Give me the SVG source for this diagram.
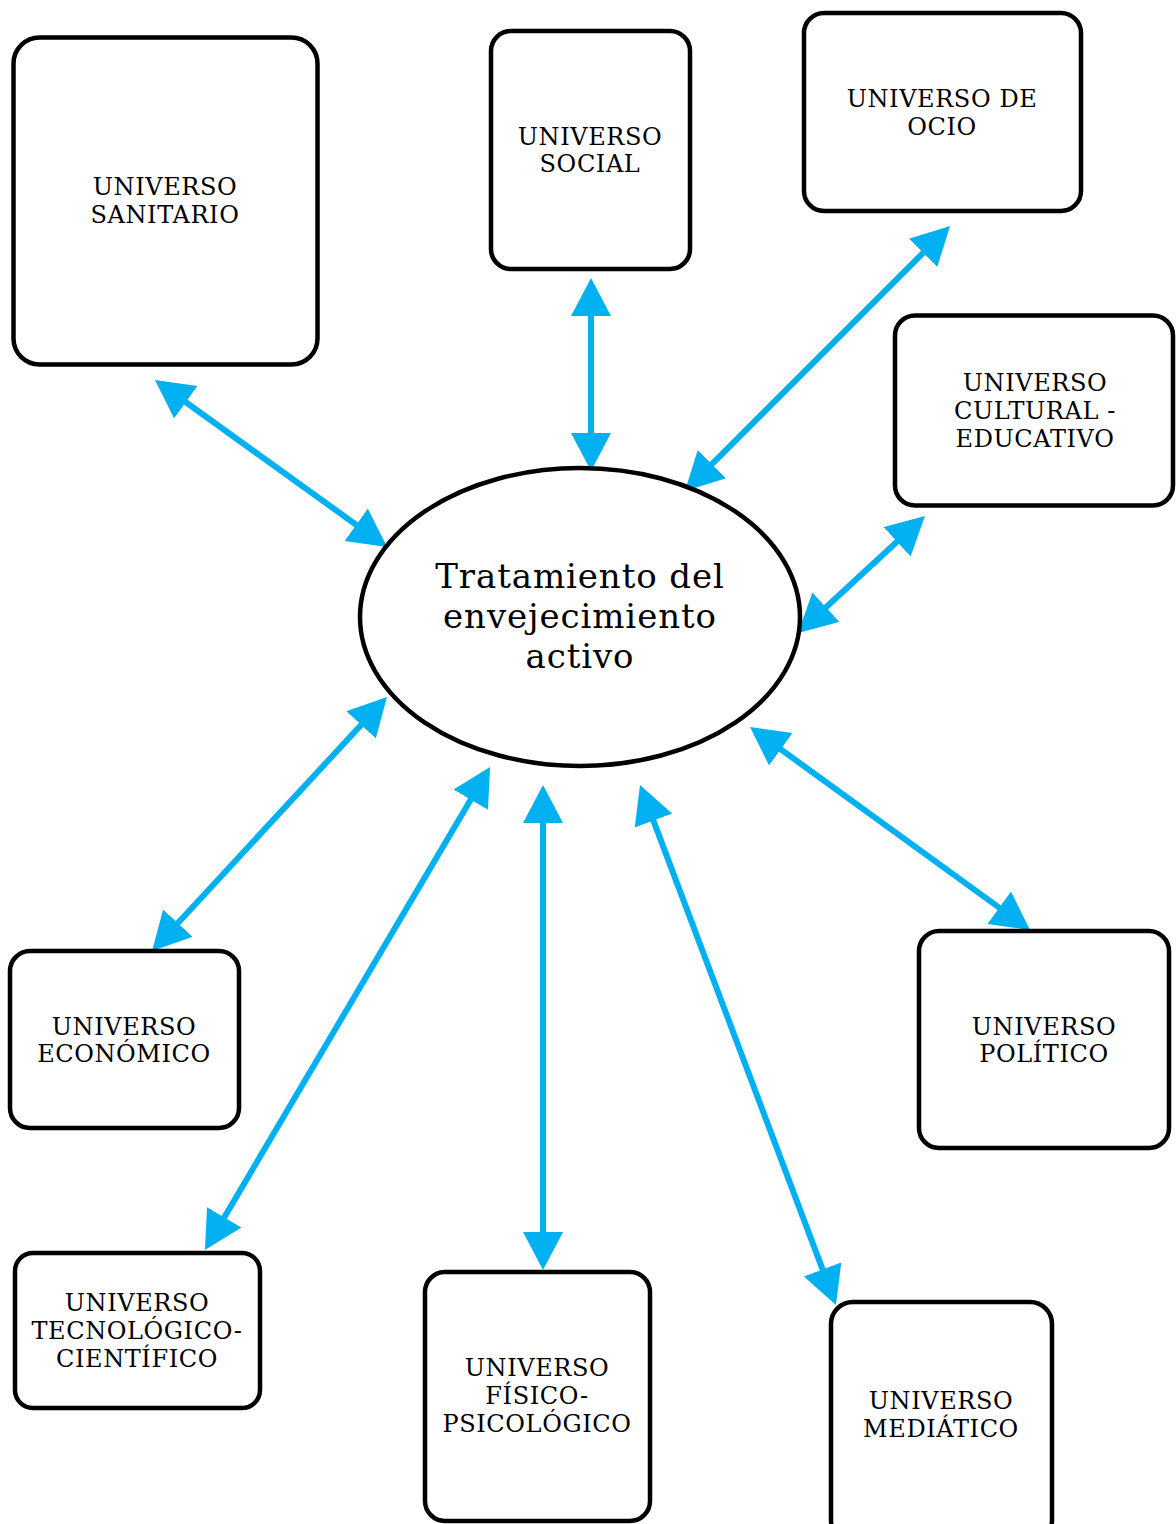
<svg xmlns="http://www.w3.org/2000/svg" width="1176" height="1524" viewBox="0 0 1176 1524">
<style>
.box{fill:#fff;stroke:#000;stroke-width:4.5}
.lbl{font-family:"DejaVu Serif","Liberation Serif",serif;font-size:24px;letter-spacing:0.6px;fill:#000;text-anchor:middle}
.title{font-family:"DejaVu Serif","Liberation Serif",serif;font-size:34px;letter-spacing:0.9px;fill:#000;text-anchor:middle}
.con{stroke:#00B0F0;stroke-width:6;fill:none;marker-start:url(#ah);marker-end:url(#ah)}
</style>
<defs>
<marker id="ah" markerUnits="userSpaceOnUse" markerWidth="40" markerHeight="42" refX="8" refY="20" orient="auto-start-reverse" viewBox="0 0 40 42">
<path d="M0,0 L38,20 L0,40 z" fill="#00B0F0"/>
</marker>
</defs>
<rect width="1176" height="1524" fill="#fff"/>
<g id="connectors">
<line class="con" x1="179.3" y1="397.5" x2="362.7" y2="529.5"/>
<line class="con" x1="591" y1="308" x2="591" y2="441"/>
<line class="con" x1="928.8" y1="247.2" x2="706.2" y2="469.8"/>
<line class="con" x1="902.9" y1="536.3" x2="820.1" y2="612.7"/>
<line class="con" x1="366.6" y1="719" x2="172.4" y2="929"/>
<line class="con" x1="474.8" y1="792.8" x2="220.2" y2="1224.2"/>
<line class="con" x1="543" y1="815" x2="543" y2="1240"/>
<line class="con" x1="650.6" y1="813.1" x2="825.4" y2="1276.9"/>
<line class="con" x1="774.3" y1="744.6" x2="1005.7" y2="912.4"/>
</g>
<g id="center">
<ellipse class="box" cx="580" cy="617" rx="220" ry="149"/>
<text class="title" x="580" y="588">Tratamiento del</text>
<text class="title" x="580" y="628">envejecimiento</text>
<text class="title" x="580" y="668">activo</text>
</g>
<g id="sanitario">
<rect class="box" x="13.5" y="37.5" width="304" height="327" rx="26"/>
<text class="lbl" x="165" y="195">UNIVERSO</text>
<text class="lbl" x="165" y="223">SANITARIO</text>
</g>
<g id="social">
<rect class="box" x="491" y="31" width="199" height="238" rx="20"/>
<text class="lbl" x="590" y="145">UNIVERSO</text>
<text class="lbl" x="590" y="172">SOCIAL</text>
</g>
<g id="ocio">
<rect class="box" x="804" y="13" width="277" height="198" rx="20"/>
<text class="lbl" x="942" y="107">UNIVERSO DE</text>
<text class="lbl" x="942" y="135">OCIO</text>
</g>
<g id="cultural">
<rect class="box" x="895" y="315.5" width="278" height="190" rx="20"/>
<text class="lbl" x="1035" y="391">UNIVERSO</text>
<text class="lbl" x="1035" y="419">CULTURAL -</text>
<text class="lbl" x="1035" y="447">EDUCATIVO</text>
</g>
<g id="economico">
<rect class="box" x="10" y="951" width="229" height="177" rx="20"/>
<text class="lbl" x="124" y="1035">UNIVERSO</text>
<text class="lbl" x="124" y="1062">ECONÓMICO</text>
</g>
<g id="politico">
<rect class="box" x="919" y="931" width="250" height="217" rx="20"/>
<text class="lbl" x="1044" y="1035">UNIVERSO</text>
<text class="lbl" x="1044" y="1062">POLÍTICO</text>
</g>
<g id="tecnologico">
<rect class="box" x="15" y="1253" width="245" height="155" rx="18"/>
<text class="lbl" x="137" y="1311">UNIVERSO</text>
<text class="lbl" x="137" y="1339">TECNOLÓGICO-</text>
<text class="lbl" x="137" y="1367">CIENTÍFICO</text>
</g>
<g id="fisico">
<rect class="box" x="425" y="1272" width="225" height="249" rx="20"/>
<text class="lbl" x="537" y="1376">UNIVERSO</text>
<text class="lbl" x="537" y="1404">FÍSICO-</text>
<text class="lbl" x="537" y="1432">PSICOLÓGICO</text>
</g>
<g id="mediatico">
<rect class="box" x="831" y="1302" width="221" height="240" rx="22"/>
<text class="lbl" x="941" y="1409">UNIVERSO</text>
<text class="lbl" x="941" y="1437">MEDIÁTICO</text>
</g>
</svg>
